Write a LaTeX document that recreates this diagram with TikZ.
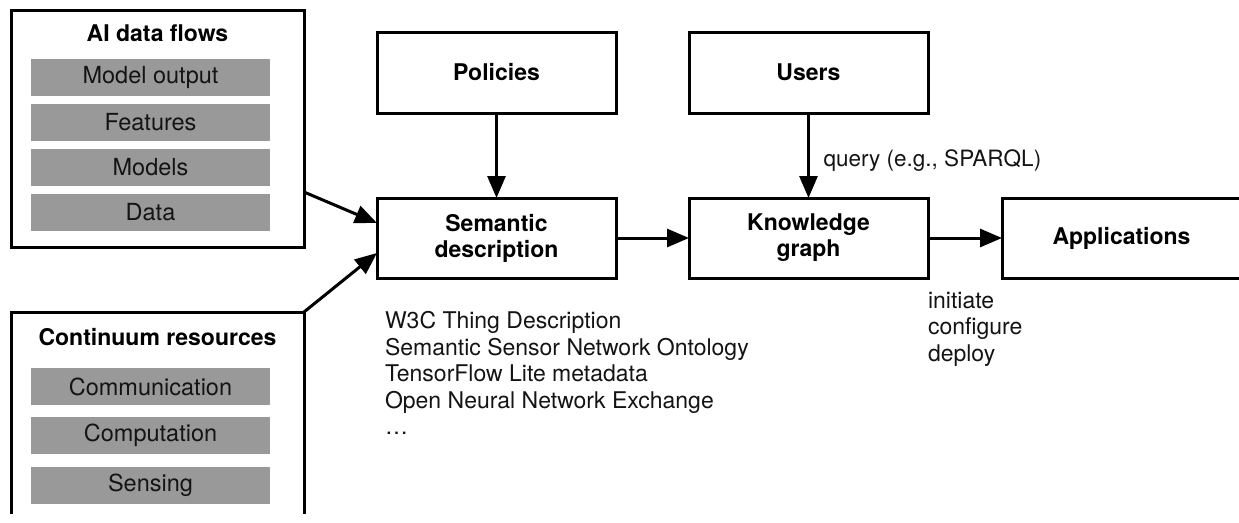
\documentclass[tikz,border=0pt]{standalone}
\usepackage{fontspec}
\setmainfont{TeX Gyre Heros}
\usetikzlibrary{arrows.meta,calc}
\definecolor{grayfill}{RGB}{153,153,153}
\definecolor{txt}{RGB}{20,20,20}
\begin{document}
\begin{tikzpicture}[x=1pt,y=-1pt,
  every node/.style={inner sep=0pt, outer sep=0pt},
  box/.style={draw, line width=3pt, minimum width=239pt, minimum height=80pt,
    align=center, font=\bfseries\fontsize{23}{26}\selectfont},
  bigbox/.style={draw, line width=3pt, minimum width=293pt},
  title/.style={font=\bfseries\fontsize{23}{26}\selectfont},
  graybox/.style={fill=grayfill, minimum width=239pt, minimum height=37pt,
    text=txt, font=\fontsize{23.5}{26}\selectfont},
  plain/.style={align=left, text=txt, font=\fontsize{23}{26.5}\selectfont},
  arr/.style={line width=3pt, -{Triangle[length=22pt,width=18pt]}}]
\useasboundingbox (0,0) rectangle (1239,522);
\clip (0,0) rectangle (1239,513);

% AI data flows
\node[bigbox, minimum height=237pt] (ai) at (157.5,128.5) {};
\node[title] (ait) at (157.5,33) {AI data flows};
\node[graybox] (g1) at (150.5,77.5) {Model output};
\node[graybox] (g2) at (150.5,122.5) {Features};
\node[graybox] (g3) at (150.5,167.5) {Models};
\node[graybox] (g4) at (150.5,212.5) {Data};

% Continuum resources
\node[bigbox, minimum height=260pt] (cr) at (157.5,442) {};
\node[title] (crt) at (157.5,337) {Continuum resources};
\node[graybox] (c1) at (150.5,386.5) {Communication};
\node[graybox] (c2) at (150.5,435) {Computation};
\node[graybox] (c3) at (150.5,485) {Sensing};

% main boxes
\node[box, minimum height=81pt] (pol) at (496.5,72.5) {Policies};
\node[box, minimum height=81pt] (usr) at (808.5,72.5) {Users};
\node[box] (sem) at (496.5,238) {Semantic\\description};
\node[box] (kg) at (808.5,238) {Knowledge\\graph};
\node[box] (app) at (1121.5,238) {Applications};

% connectors
\draw[arr] ([yshift=55pt]ai.south east) -- ([yshift=15pt]sem.west);
\draw[arr] (cr.north east) -- ([yshift=-15pt]sem.west);
\draw[arr] (pol) -- (sem);
\draw[arr] (usr) -- node[pos=0.56, anchor=west, xshift=15pt, text=txt,
  font=\fontsize{22.5}{26}\selectfont] (q) {query (e.g., SPARQL)} (kg);
\draw[arr] (sem) -- (kg);
\draw[arr] (kg) -- (app);

% annotations
\node[plain, anchor=north west] (list) at (385,311.5) {W3C Thing Description\\
Semantic Sensor Network Ontology\\
TensorFlow Lite metadata\\
Open Neural Network Exchange\\
\ldots};
\node[plain, anchor=north west] (ops) at (928,292) {initiate\\configure\\deploy};
\end{tikzpicture}
\end{document}
